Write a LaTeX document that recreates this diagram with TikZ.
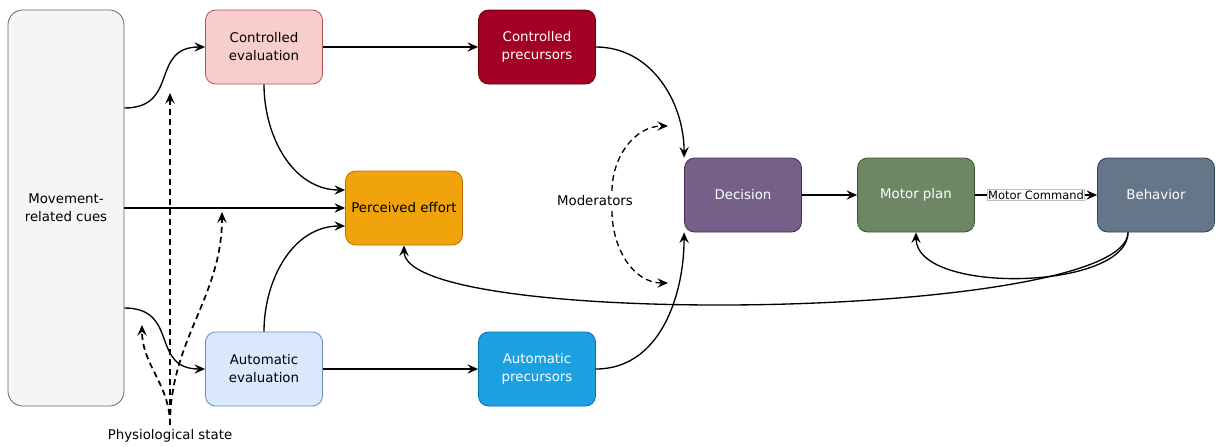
\documentclass[tikz,border=0pt]{standalone}
\usepackage{fontspec}
\setmainfont{DejaVu Sans}
\usetikzlibrary{arrows.meta}

\definecolor{cuesfill}{HTML}{F5F5F5}
\definecolor{cuesline}{HTML}{666666}
\definecolor{ctrlevalfill}{HTML}{F8CECC}
\definecolor{ctrlevalline}{HTML}{B85450}
\definecolor{ctrlprecfill}{HTML}{A20025}
\definecolor{ctrlprecline}{HTML}{6F0000}
\definecolor{effortfill}{HTML}{F0A30A}
\definecolor{effortline}{HTML}{BD7000}
\definecolor{autoevalfill}{HTML}{DAE8FC}
\definecolor{autoevalline}{HTML}{6C8EBF}
\definecolor{autoprecfill}{HTML}{1BA1E2}
\definecolor{autoprecline}{HTML}{006EAF}
\definecolor{decisionfill}{HTML}{76608A}
\definecolor{decisionline}{HTML}{432D57}
\definecolor{planfill}{HTML}{6D8764}
\definecolor{planline}{HTML}{3A5431}
\definecolor{behavfill}{HTML}{647687}
\definecolor{behavline}{HTML}{314354}

\begin{document}
\begin{tikzpicture}[x=0.75pt,y=-0.75pt,
		font=\fontsize{10}{13.5}\selectfont,
		box/.style={draw, line width=0.6pt, rounded corners=7.5pt, align=center,
			minimum width=87.75pt, minimum height=55.5pt, inner sep=2pt},
		cuebox/.style={box, rounded corners=11pt, minimum width=87pt, minimum height=297pt},
		dark/.style={text=white},
		flow/.style={-{Stealth[length=8pt,width=7pt,inset=3pt]}, line width=1pt},
		cue/.style={flow, line width=1.3pt, dash pattern=on 4.5pt off 3pt},
		moder/.style={flow, dash pattern=on 4.5pt off 3pt},
		cmd/.style={draw=black!25, line width=0.4pt, fill=white, inner sep=0.6pt,
			font=\fontsize{8.6}{10}\selectfont}]
		\useasboundingbox (0,0) rectangle (1216,446);
		\path
			(  66, 208) node[cuebox, fill=cuesfill, draw=cuesline]               (cues)     {Movement-\\related cues}
			( 264,  47) node[box, fill=ctrlevalfill, draw=ctrlevalline]          (ctrleval) {Controlled\\evaluation}
			( 537,  47) node[box, dark, fill=ctrlprecfill, draw=ctrlprecline]    (ctrlprec) {Controlled\\precursors}
			( 404, 208) node[box, fill=effortfill, draw=effortline]              (effort)   {Perceived effort}
			( 264, 369) node[box, fill=autoevalfill, draw=autoevalline]          (autoeval) {Automatic\\evaluation}
			( 537, 369) node[box, dark, fill=autoprecfill, draw=autoprecline]    (autoprec) {Automatic\\precursors}
			( 743, 195) node[box, dark, fill=decisionfill, draw=decisionline]    (decision) {Decision}
			( 916, 195) node[box, dark, fill=planfill, draw=planline]            (plan)     {Motor plan}
			(1156, 195) node[box, dark, fill=behavfill, draw=behavline]          (behavior) {Behavior}
			( 595, 201) node                                                      (moder)    {Moderators}
			( 170, 436) node                                                      (physio)   {Physiological state}
			( 612, 191) coordinate (modtop)
			( 612, 211) coordinate (modbot)
			( 668, 126) coordinate (modup)
			( 668, 283) coordinate (moddown)
			( 170,  93) coordinate (physa)
			( 222, 212) coordinate (physb)
			( 142, 325) coordinate (physc)
		;
		\draw[flow]  ([yshift=75pt]cues.east)  to[out=0,in=180,looseness=1.4] (ctrleval.west);
		\draw[flow]  (cues.east)               --                 (effort.west);
		\draw[flow]  ([yshift=-75pt]cues.east) to[out=0,in=180,looseness=1.4] (autoeval.west);
		\draw[flow]  (ctrleval.east)           --                 (ctrlprec.west);
		\draw[flow]  (autoeval.east)           --                 (autoprec.west);
		\draw[flow]  (ctrleval.south)          to[out=-90,in=180] ([yshift=13.5pt]effort.west);
		\draw[flow]  (autoeval.north)          to[out=90,in=180]  ([yshift=-13.5pt]effort.west);
		\draw[flow]  (ctrlprec.east)           to[out=0,in=90]    (decision.north west);
		\draw[flow]  (autoprec.east)           to[out=0,in=-90]   (decision.south west);
		\draw[flow]  (decision)                --                 (plan);
		\draw[flow]  (plan)                    -- node[cmd] {Motor Command} (behavior);
		\draw[flow]  ([xshift=-21pt]behavior.south) .. controls +(0,58) and +(0,63) .. (plan.south);
		\draw[flow]  ([xshift=-21pt]behavior.south) .. controls +(0,88) and +(0,85) .. (effort.south);
		\draw[moder] (modtop)                  to[out=90,in=180]  (modup);
		\draw[moder] (modbot)                  to[out=-90,in=180] (moddown);
		\draw[cue]   (physio.north)            --                 (physa);
		\draw[cue]   (physio.north)            to[out=90,in=-90]  (physb);
		\draw[cue]   (physio.north)            to[out=90,in=-90]  (physc);
	\end{tikzpicture}
\end{document}
